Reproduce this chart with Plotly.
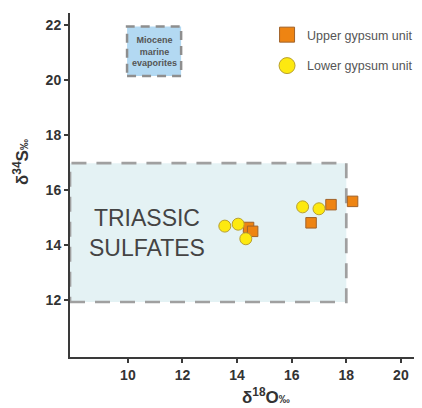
import plotly.graph_objects as go

# Data
upper_x = [14.42, 14.57, 16.71, 17.44, 18.23]
upper_y = [14.64, 14.50, 14.81, 15.47, 15.59]
lower_x = [13.55, 14.04, 14.32, 16.40, 17.00]
lower_y = [14.69, 14.76, 14.23, 15.39, 15.32]

x_ticks = [10, 12, 14, 16, 18, 20]
y_ticks = [12, 14, 16, 18, 20, 22]
x_range = [7.88, 20.70]
y_range = [9.93, 22.44]

triassic_x = [x_range[0], 18.0]
triassic_y = [11.93, 16.98]
miocene_x = [9.97, 11.95]
miocene_y = [20.15, 21.95]

FONT = "Arial, Liberation Sans, sans-serif"

fig = go.Figure()

fig.add_trace(go.Scatter(
    x=upper_x, y=upper_y, mode="markers", name="Upper gypsum unit",
    marker=dict(symbol="square", size=10.5, color="#ee8412",
                line=dict(color="#a0622a", width=1)),
    showlegend=False))
fig.add_trace(go.Scatter(
    x=lower_x, y=lower_y, mode="markers", name="Lower gypsum unit",
    marker=dict(symbol="circle", size=12, color="#fde910",
                line=dict(color="#b8a030", width=1)),
    showlegend=False))

# Legend entries
fig.add_trace(go.Scatter(
    x=[None], y=[None], mode="markers", name="Upper gypsum unit",
    marker=dict(symbol="square", size=15, color="#ee8412",
                line=dict(color="#a0622a", width=1)),
    legend="legend"))
fig.add_trace(go.Scatter(
    x=[None], y=[None], mode="markers", name="Lower gypsum unit",
    marker=dict(symbol="circle", size=16, color="#fde910",
                line=dict(color="#b8a030", width=1)),
    legend="legend2"))

shapes = [
    dict(type="rect", xref="x", yref="y",
         x0=triassic_x[0], x1=triassic_x[1], y0=triassic_y[0], y1=triassic_y[1],
         fillcolor="#e4f2f4", line=dict(color="#a0a0a0", width=2.7, dash="15px,10px"),
         layer="below"),
    dict(type="rect", xref="x", yref="y",
         x0=miocene_x[0], x1=miocene_x[1], y0=miocene_y[0], y1=miocene_y[1],
         fillcolor="#b3d9f2", line=dict(color="#8e8e8e", width=2.5, dash="9px,6px"),
         layer="below"),
]

annotations = [
    dict(x=(miocene_x[0] + miocene_x[1]) / 2, y=(miocene_y[0] + miocene_y[1]) / 2,
         xref="x", yref="y", showarrow=False,
         text="<b>Miocene<br>marine<br>evaporites</b>",
         font=dict(family=FONT, size=9, color="#555555")),
    dict(x=10.71, y=14.45, xref="x", yref="y", showarrow=False,
         text="TRIASSIC<br>SULFATES",
         font=dict(family=FONT, size=23, color="#444444")),
    dict(x=0.56, y=-0.113, xref="paper", yref="paper", showarrow=False,
         yanchor="middle", xanchor="center",
         text="<b>δ<sup>18</sup>O<span style='font-size:11px'>‰</span></b>",
         font=dict(family=FONT, size=17, color="#333333")),
    dict(x=-0.14, y=0.567, xref="paper", yref="paper", showarrow=False,
         textangle=-90, yanchor="middle", xanchor="center",
         text="<b>δ<sup>34</sup>S<span style='font-size:11px'>‰</span></b>",
         font=dict(family=FONT, size=17, color="#333333")),
]

axis_common = dict(
    showgrid=False, zeroline=False, showline=True, linecolor="#3a3a3a",
    linewidth=2, ticks="outside", ticklen=4, tickwidth=1.5, tickcolor="#3a3a3a",
    tickfont=dict(family=FONT, size=14, color="#333333", weight="bold"),
)

# The page body has an 8px margin, so the figure is sized to fit the window.
fig.update_layout(
    width=414, height=400,
    margin=dict(l=62, r=2, t=5, b=51, autoexpand=False),
    paper_bgcolor="white", plot_bgcolor="white",
    xaxis=dict(range=x_range, tickvals=x_ticks, **axis_common),
    yaxis=dict(range=y_range, tickvals=y_ticks, **axis_common),
    shapes=shapes, annotations=annotations,
    legend=dict(x=0.563, y=0.936, xanchor="left", yanchor="middle",
                bgcolor="rgba(0,0,0,0)",
                font=dict(family=FONT, size=12.5, color="#555555")),
    legend2=dict(x=0.563, y=0.846, xanchor="left", yanchor="middle",
                 bgcolor="rgba(0,0,0,0)",
                 font=dict(family=FONT, size=12.5, color="#555555")),
)

fig.write_html("out.html")
